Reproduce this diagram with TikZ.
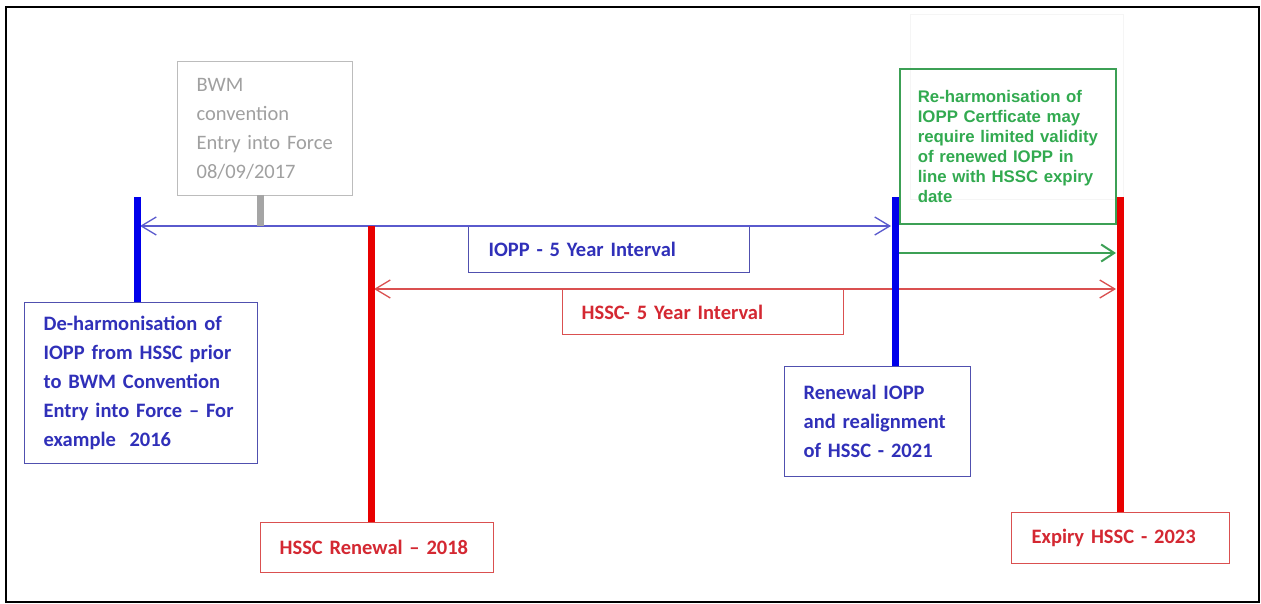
\documentclass[tikz,border=0pt]{standalone}
\usepackage{fontspec}
\setmainfont{Carlito}
\newfontfamily\arialf{Liberation Sans}
\usetikzlibrary{arrows.meta}
\definecolor{bluebar}{RGB}{0,0,235}
\definecolor{bluetext}{RGB}{48,48,185}
\definecolor{blueedge}{RGB}{80,80,175}
\definecolor{blueline}{RGB}{90,90,205}
\definecolor{redbar}{RGB}{232,0,0}
\definecolor{redtext}{RGB}{212,40,50}
\definecolor{rededge}{RGB}{218,80,80}
\definecolor{greentext}{RGB}{50,170,80}
\definecolor{greenedge}{RGB}{60,160,85}
\definecolor{graytext}{RGB}{160,160,160}
\definecolor{grayedge}{RGB}{188,188,188}
\definecolor{graybar}{RGB}{165,165,165}
\begin{document}
\begin{tikzpicture}[x=1pt,y=-1pt,
  box/.style={draw, line width=1.3pt, anchor=north west, align=left, inner ysep=0pt, inner xsep=19pt,
    font=\bfseries\fontsize{20.5}{29}\selectfont},
  bluebox/.style={box, draw=blueedge, text=bluetext},
  redbox/.style={box, draw=rededge, text=redtext},
  graybox/.style={box, draw=grayedge, text=graytext, font=\fontsize{20.5}{29}\selectfont},
  greenbox/.style={box, draw=greenedge, line width=1.6pt, text=greentext, inner xsep=18pt,
    font=\arialf\bfseries\fontsize{16.8}{20}\selectfont},
  bar/.style={line width=7pt},
  tip/.style={{Straight Barb[length=15pt,width=18pt]}-{Straight Barb[length=15pt,width=18pt]}},
  rtip/.style={-{Straight Barb[length=13pt,width=17pt]}}]
\useasboundingbox (0,0) rectangle (1261,604);
\fill[white] (0,0) rectangle (1261,604);
% faint background box
\draw[black!4, line width=1pt] (910,15) rectangle (1123,200);
% outer frame
\draw[black, line width=2.6pt] (6,7) rectangle (1259,602);

% boxes
\node[graybox, minimum width=175pt, minimum height=134pt, text width=137pt] (bwm) at (177,61)
  {\mbox{BWM}\\\mbox{convention}\\\mbox{Entry into Force}\\\mbox{08/09/2017}};
\node[bluebox, minimum width=233pt, minimum height=161pt, text width=195pt] (deh) at (24,302)
  {\mbox{De-harmonisation of}\\\mbox{IOPP from HSSC prior}\\\mbox{to BWM Convention}\\\mbox{Entry into Force -- For}\\\mbox{example~~2016}};
\node[redbox, minimum width=233pt, minimum height=50pt, text width=195pt] (hren) at (260,522)
  {HSSC Renewal -- 2018};
\node[bluebox, minimum width=281pt, minimum height=46pt, text width=241pt, inner xsep=20pt] (iopp) at (468,226)
  {IOPP - 5 Year Interval};
\node[redbox, minimum width=281pt, minimum height=45pt, text width=243pt] (hssc) at (562,289)
  {HSSC- 5 Year Interval};
\node[bluebox, minimum width=186pt, minimum height=110pt, text width=148pt] (ren) at (784,366)
  {\mbox{Renewal IOPP}\\\mbox{and realignment}\\\mbox{of HSSC - 2021}};
\node[redbox, minimum width=218pt, minimum height=51pt, text width=178pt, inner xsep=20pt] (exp) at (1011,512)
  {Expiry HSSC - 2023};
\node[greenbox, minimum width=216pt, minimum height=155pt, text width=180pt] (grn) at (899,68)
  {\mbox{Re-harmonisation of}\\\mbox{IOPP Certficate may}\\\mbox{require limited validity}\\\mbox{of renewed IOPP in}\\\mbox{line with HSSC expiry}\\\mbox{date}};

% coordinates for bars and interval lines
\coordinate (b1) at (137,197);
\coordinate (r1) at (371,226);
\coordinate (b2) at (895,197);
\coordinate (r2) at (1120,197);
\coordinate (g1) at (260,195);
\coordinate (iL) at (140,226);
\coordinate (iR) at (891,226);
\coordinate (hL) at (374,289);
\coordinate (hR) at (1116,289);
\coordinate (gL) at (898,253);
\coordinate (gR) at (1116,253);

% interval lines
\draw[blueline, line width=1.3pt, tip] (iL) -- (iR);
\draw[rededge, line width=1.3pt, tip] (hL) -- (hR);
\draw[greenedge, line width=2pt, rtip] (gL) -- (gR);

% vertical bars
\draw[graybar, bar] (g1) -- (g1 |- iL);
\draw[bluebar, bar] (b1) -- (b1 |- deh.north);
\draw[redbar, bar] (r1) -- (r1 |- hren.north);
\draw[bluebar, bar] (b2) -- (b2 |- ren.north);
\draw[redbar, bar] (r2) -- (r2 |- exp.north);
\end{tikzpicture}
\end{document}
